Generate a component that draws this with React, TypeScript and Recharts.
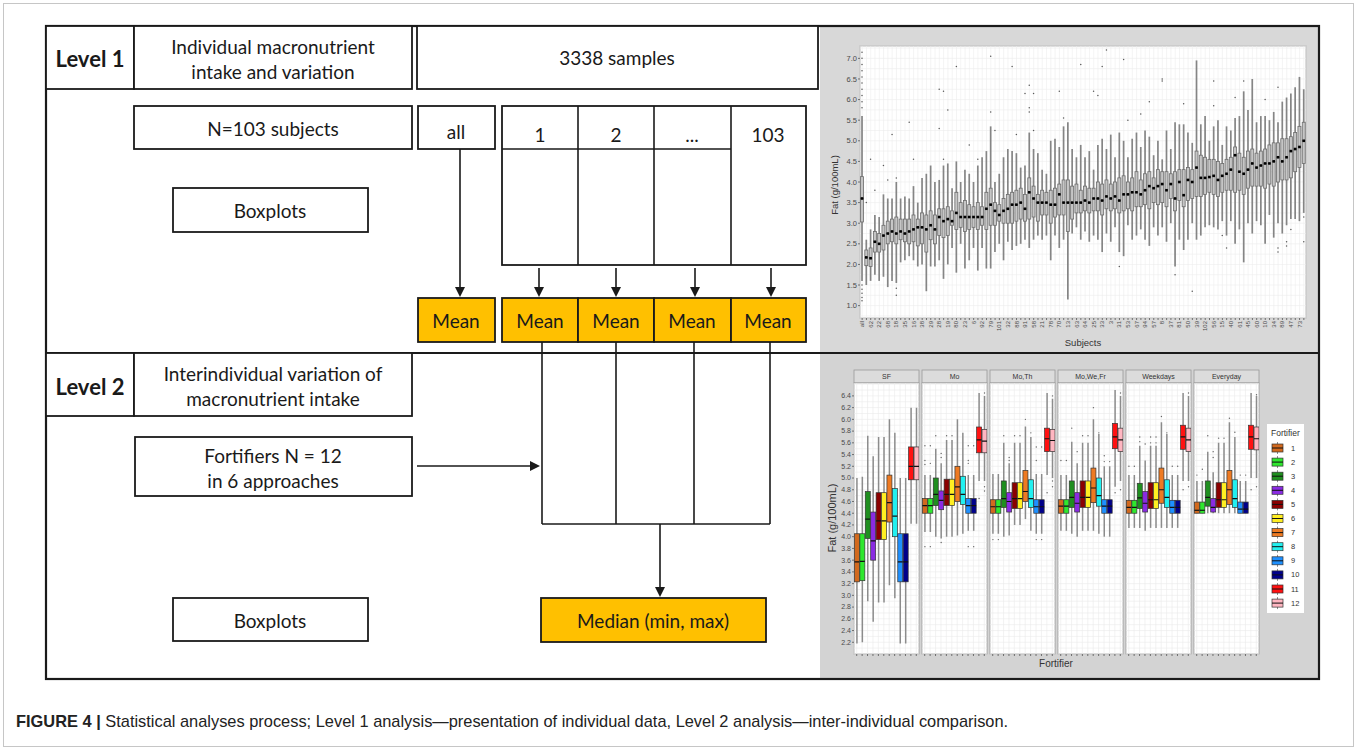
import React from "react";
import { ComposedChart, Bar, XAxis, YAxis, CartesianGrid } from "recharts";

// ---------- Level 1: fat per subject (sorted by median) ----------
const subjects = [
  "all", "1", "62", "2", "22", "4", "68", "5", "18", "7", "35", "9", "16", "11", "38", "12", "29", "14", "28", "17",
  "19", "20", "80", "24", "23", "26", "6", "27", "92", "30", "79", "36", "101", "41", "32", "42", "88", "43", "91", "44",
  "58", "46", "21", "48", "78", "49", "70", "51", "13", "52", "63", "54", "64", "55", "25", "59", "33", "65", "3", "66",
  "31", "69", "53", "71", "67", "72", "94", "74", "57", "75", "8", "76", "37", "77", "81", "82", "50", "83", "39", "84",
  "102", "85", "56", "86", "15", "87", "40", "90", "61", "93", "45", "95", "60", "96", "10", "97", "34", "98", "89", "99",
  "47", "100", "73", "103",
];

const subjLo = [
  1.6, 1.5, 1.6, 1.75, 1.6, 1.7, 1.45, 1.6, 1.55, 2.05,
  2.1, 2.2, 2.1, 1.95, 2.0, 1.35, 1.95, 1.95, 2.1, 1.65,
  2.0, 2.4, 1.8, 2.5, 1.9, 2.1, 2.4, 1.85, 2.4, 1.9,
  1.9, 2.3, 2.5, 2.1, 2.55, 2.35, 2.45, 2.5, 2.6, 2.4,
  2.6, 2.7, 2.6, 2.7, 2.1, 2.7, 2.4, 2.6, 1.15, 2.75,
  2.9, 2.6, 2.8, 2.55, 2.7, 2.6, 2.3, 2.75, 2.55, 2.9,
  2.3, 2.2, 2.95, 2.6, 2.7, 2.85, 2.6, 2.45, 2.9, 2.7,
  2.9, 2.55, 3.0, 1.95, 2.6, 2.35, 2.6, 3.0, 2.6, 2.7,
  2.9, 2.95, 2.9, 2.85, 3.05, 2.7, 3.05, 2.5, 2.85, 2.05,
  3.0, 2.75, 3.05, 2.95, 2.5, 3.2, 2.65, 3.0, 2.75, 2.95,
  3.1, 3.1, 3.05, 3.25,
];
const subjQ1 = [
  3.03, 1.97, 1.95, 2.3, 2.3, 2.35, 2.5, 2.55, 2.5, 2.6,
  2.55, 2.5, 2.55, 2.45, 2.5, 2.3, 2.6, 2.5, 2.7, 2.65,
  2.7, 2.95, 2.85, 2.9, 2.8, 2.85, 2.9, 2.85, 2.95, 2.85,
  2.95, 2.95, 3.05, 3.0, 3.0, 3.0, 3.05, 3.1, 3.05, 3.1,
  3.15, 3.05, 3.2, 3.2, 3.0, 3.15, 3.2, 3.2, 2.8, 3.1,
  3.25, 3.25, 3.3, 3.25, 3.3, 3.3, 3.2, 3.35, 3.3, 3.35,
  3.25, 3.3, 3.35, 3.3, 3.4, 3.4, 3.45, 3.35, 3.5, 3.45,
  3.5, 3.4, 3.6, 3.3, 3.55, 3.4, 3.55, 3.6, 3.65, 3.65,
  3.7, 3.75, 3.7, 3.65, 3.75, 3.8, 3.8, 3.75, 3.8, 3.7,
  3.85, 3.9, 3.9, 3.9, 3.85, 3.95, 3.9, 4.0, 4.05, 4.05,
  4.1, 4.25, 4.35, 4.45,
];
const subjMed = [
  3.6, 2.17, 2.15, 2.55, 2.5, 2.7, 2.75, 2.8, 2.75, 2.8,
  2.75, 2.8, 2.85, 2.9, 2.9, 2.85, 2.95, 2.85, 3.15, 3.05,
  3.1, 3.05, 3.25, 3.15, 3.15, 3.15, 3.15, 3.15, 3.15, 3.35,
  3.45, 3.3, 3.2, 3.3, 3.35, 3.45, 3.45, 3.5, 3.35, 3.75,
  3.6, 3.5, 3.5, 3.5, 3.45, 3.45, 3.7, 3.5, 3.5, 3.5,
  3.5, 3.5, 3.55, 3.5, 3.6, 3.6, 3.55, 3.65, 3.6, 3.65,
  3.55, 3.7, 3.7, 3.75, 3.75, 3.7, 3.8, 3.9, 3.85, 3.9,
  3.95, 3.8, 3.95, 3.6, 4.0, 3.68, 4.05, 4.0, 4.35, 4.1,
  4.1, 4.12, 4.15, 4.05, 4.15, 4.2, 4.3, 4.65, 4.25, 4.2,
  4.3, 4.45, 4.35, 4.4, 4.45, 4.45, 4.5, 4.6, 4.5, 4.6,
  4.75, 4.8, 4.85, 5.0,
];
const subjQ3 = [
  4.13, 2.35, 2.4, 2.8, 2.75, 2.95, 3.05, 3.1, 3.15, 3.1,
  3.1, 3.1, 3.2, 3.1, 3.25, 3.2, 3.3, 3.2, 3.35, 3.35,
  3.4, 3.3, 3.75, 3.5, 3.55, 3.45, 3.4, 3.5, 3.4, 3.75,
  3.85, 3.5, 3.45, 3.6, 3.7, 3.75, 3.8, 3.85, 3.7, 4.1,
  3.9, 3.7, 3.8, 3.75, 3.8, 3.85, 3.95, 4.05, 4.05, 3.9,
  3.95, 3.8, 3.9, 3.85, 3.85, 4.0, 3.95, 4.05, 3.95, 4.0,
  4.1, 4.15, 4.0, 4.1, 4.25, 4.05, 4.2, 4.25, 4.1, 4.3,
  4.25, 4.25, 4.2, 4.25, 4.3, 4.3, 4.35, 4.3, 4.75, 4.65,
  4.6, 4.55, 4.55, 4.5, 4.45, 4.55, 4.6, 4.85, 4.7, 4.6,
  4.75, 4.8, 4.7, 4.75, 4.8, 4.9, 4.95, 4.95, 5.05, 5.05,
  5.1, 5.2, 5.35, 5.45,
];
const subjHi = [
  5.6, 2.6, 2.85, 3.2, 3.15, 3.7, 3.6, 3.6, 4.0, 3.6,
  3.65, 3.6, 3.9, 3.5, 4.1, 4.2, 4.4, 4.0, 4.05, 4.4,
  4.45, 3.85, 4.5, 4.0, 4.3, 4.2, 4.0, 4.4, 4.6, 4.75,
  5.35, 4.0, 4.2, 4.6, 4.8, 4.75, 4.7, 4.35, 4.4, 5.2,
  4.8, 4.7, 4.3, 4.2, 5.0, 5.05, 4.85, 5.35, 5.45, 4.8,
  4.6, 4.9, 4.6, 4.75, 4.3, 4.9, 5.05, 4.8, 5.15, 4.6,
  5.2, 5.0, 4.6, 5.05, 5.2, 4.85, 5.25, 5.1, 4.65, 5.0,
  4.55, 5.25, 4.8, 5.45, 5.4, 5.4, 5.2, 4.95, 6.95, 5.4,
  5.6, 5.0, 5.35, 5.5, 4.9, 5.35, 5.25, 5.55, 5.6, 6.2,
  5.75, 6.5, 5.45, 5.6, 5.6, 5.5, 5.7, 5.45, 5.95, 6.05,
  6.15, 6.3, 6.55, 6.25,
];
// [subject index, value]
const subjOutliers: [number, number][] = [
  [0, 5.8], [0, 5.95], [0, 6.1], [0, 6.25], [0, 6.4], [0, 6.55], [0, 6.7], [0, 6.85], [0, 7.0], [0, 7.15],
  [0, 1.5], [0, 1.4], [0, 1.3], [0, 1.2], [0, 1.12],
  [1, 3.5], [2, 4.55], [3, 3.8], [5, 4.4], [6, 4.05], [7, 5.15], [8, 4.1], [8, 1.42], [8, 1.25],
  [11, 5.45], [12, 4.55], [18, 6.25], [18, 5.3], [19, 6.2], [19, 4.55], [20, 5.75], [22, 6.8],
  [25, 4.9], [27, 4.55], [30, 7.05], [30, 5.7], [31, 5.25], [35, 6.8], [36, 5.15], [38, 6.15],
  [39, 6.35], [39, 5.8], [39, 5.7], [40, 6.15], [40, 5.25], [46, 6.2], [47, 5.55], [51, 6.85],
  [54, 6.2], [55, 6.1], [56, 6.8], [57, 7.2], [60, 1.95], [61, 6.97], [62, 5.5], [65, 5.65],
  [67, 5.95], [70, 6.45], [70, 6.5], [73, 1.75], [75, 5.9], [77, 1.35], [82, 5.85], [82, 6.45],
  [84, 2.7], [85, 2.4], [87, 6.05], [89, 6.45], [94, 6.0], [97, 2.4], [97, 2.3], [97, 6.3],
  [99, 2.55], [99, 2.45], [100, 2.85], [103, 2.55], [103, 3.15],
];
const subjTicks = [
  0.75, 1, 1.25, 1.5, 1.75, 2, 2.25, 2.5, 2.75, 3, 3.25, 3.5, 3.75, 4, 4.25, 4.5, 4.75,
  5, 5.25, 5.5, 5.75, 6, 6.25, 6.5, 6.75, 7, 7.25,
];

// ---------- Level 2: fortifiers in 6 approaches ----------
const approaches = ["SF", "Mo", "Mo,Th", "Mo,We,Fr", "Weekdays", "Everyday"];
const fortifiers = ["1", "2", "3", "4", "5", "6", "7", "8", "9", "10", "11", "12"];
const fortColors = [
  "#d2691e", "#2ee82e", "#1f8f1f", "#8a2be2", "#8b0000", "#ffee22",
  "#ee7a22", "#22f0f0", "#1e90ff", "#00008b", "#ff1111", "#ffb6c1",
];
const fortLo = [
  [2.18, 2.2, 2.9, 2.55, 2.88, 2.88, 3.17, 2.95, 2.18, 2.18, 4.22, 4.22],
  [4.08, 4.08, 4.0, 3.97, 4.0, 4.0, 4.02, 4.05, 4.1, 4.1, 4.95, 4.95],
  [4.05, 4.05, 4.0, 4.02, 4.2, 4.2, 4.3, 4.1, 4.05, 4.05, 5.05, 5.0],
  [4.1, 4.1, 4.05, 4.0, 4.1, 4.1, 4.1, 4.05, 4.0, 4.0, 4.85, 4.95],
  [4.15, 4.15, 4.15, 4.1, 4.15, 4.15, 4.15, 4.15, 4.15, 4.15, 4.95, 4.95],
  [4.4, 4.4, 4.4, 4.4, 4.4, 4.4, 4.4, 4.4, 4.4, 4.4, 5.0, 5.0],
];
const fortQ1 = [
  [3.23, 3.25, 3.97, 3.6, 3.95, 3.95, 4.25, 4.0, 3.23, 3.23, 4.97, 4.97],
  [4.4, 4.4, 4.53, 4.46, 4.53, 4.53, 4.6, 4.55, 4.4, 4.4, 5.43, 5.43],
  [4.4, 4.4, 4.5, 4.42, 4.48, 4.48, 4.6, 4.5, 4.4, 4.4, 5.45, 5.45],
  [4.4, 4.4, 4.5, 4.42, 4.5, 4.5, 4.58, 4.52, 4.4, 4.4, 5.5, 5.45],
  [4.4, 4.4, 4.48, 4.42, 4.48, 4.48, 4.57, 4.5, 4.4, 4.4, 5.49, 5.45],
  [4.4, 4.4, 4.52, 4.42, 4.5, 4.5, 4.55, 4.5, 4.4, 4.4, 5.49, 5.48],
];
const fortMed = [
  [3.57, 3.58, 4.3, 3.93, 4.27, 4.27, 4.58, 4.35, 3.57, 3.57, 5.2, 5.2],
  [4.53, 4.53, 4.72, 4.62, 4.72, 4.72, 4.85, 4.72, 4.53, 4.53, 5.65, 5.63],
  [4.51, 4.51, 4.65, 4.6, 4.65, 4.65, 4.77, 4.65, 4.51, 4.51, 5.67, 5.64],
  [4.52, 4.52, 4.67, 4.57, 4.67, 4.67, 4.83, 4.7, 4.52, 4.52, 5.7, 5.65],
  [4.5, 4.5, 4.66, 4.57, 4.63, 4.63, 4.8, 4.67, 4.5, 4.5, 5.7, 5.65],
  [4.45, 4.45, 4.67, 4.5, 4.63, 4.63, 4.8, 4.65, 4.47, 4.47, 5.7, 5.67],
];
const fortQ3 = [
  [4.05, 4.05, 4.77, 4.42, 4.75, 4.75, 5.05, 4.82, 4.05, 4.05, 5.53, 5.53],
  [4.65, 4.65, 5.0, 4.78, 4.98, 4.98, 5.2, 5.03, 4.65, 4.65, 5.87, 5.83],
  [4.63, 4.63, 4.95, 4.75, 4.92, 4.92, 5.13, 4.97, 4.63, 4.63, 5.85, 5.83],
  [4.63, 4.63, 4.95, 4.75, 4.95, 4.95, 5.17, 5.0, 4.63, 4.63, 5.93, 5.85],
  [4.62, 4.62, 4.91, 4.77, 4.92, 4.92, 5.17, 4.97, 4.62, 4.62, 5.9, 5.85],
  [4.59, 4.59, 4.95, 4.65, 4.92, 4.92, 5.13, 4.97, 4.59, 4.59, 5.9, 5.87],
];
const fortHi = [
  [5.0, 5.02, 5.72, 5.37, 5.7, 5.7, 6.0, 5.77, 5.0, 5.0, 6.2, 6.2],
  [5.05, 5.05, 5.5, 5.25, 5.65, 5.65, 6.0, 5.77, 5.05, 5.05, 6.45, 6.4],
  [5.07, 5.07, 5.6, 5.25, 5.6, 5.6, 5.88, 5.7, 5.07, 5.07, 6.45, 6.35],
  [5.05, 5.05, 5.62, 5.25, 5.6, 5.6, 6.0, 5.75, 5.2, 5.2, 6.5, 6.4],
  [5.05, 5.05, 5.55, 5.3, 5.55, 5.55, 5.95, 5.75, 5.05, 5.05, 6.45, 6.4],
  [4.95, 4.95, 5.45, 5.1, 5.6, 5.6, 5.95, 5.7, 4.95, 4.95, 6.45, 6.4],
];
// [approach, fortifier, value]
const fortOutliers: [number, number, number][] = [
  [1, 0, 3.83], [1, 0, 5.23], [1, 0, 5.3], [1, 0, 5.55], [1, 1, 3.83], [1, 1, 5.55], [1, 1, 5.25],
  [1, 2, 5.72], [1, 3, 5.35], [1, 3, 5.42], [1, 3, 3.9], [1, 4, 5.72], [1, 5, 5.72],
  [1, 8, 3.83], [1, 8, 5.25], [1, 8, 5.3], [1, 8, 5.55], [1, 9, 3.83], [1, 9, 5.55],
  [1, 10, 4.65], [1, 11, 4.85], [1, 11, 4.78], [1, 11, 6.45],
  [2, 0, 3.95], [2, 1, 3.95], [2, 2, 5.72], [2, 3, 5.3], [2, 3, 5.35], [2, 4, 5.72], [2, 5, 5.72],
  [2, 6, 6.0], [2, 7, 5.77], [2, 8, 3.95], [2, 8, 5.3], [2, 8, 5.53], [2, 9, 3.95], [2, 9, 5.53],
  [2, 10, 4.75], [2, 11, 4.85], [2, 11, 4.95], [2, 11, 6.4],
  [3, 0, 5.3], [3, 1, 5.3], [3, 2, 5.85], [3, 3, 5.45], [3, 4, 5.72], [3, 5, 5.72], [3, 6, 6.2],
  [3, 7, 5.77], [3, 8, 5.38], [3, 8, 5.28], [3, 9, 5.28], [3, 10, 4.75], [3, 11, 4.8], [3, 11, 6.45],
  [4, 0, 5.2], [4, 1, 5.2], [4, 2, 5.7], [4, 2, 5.62], [4, 3, 5.58], [4, 4, 5.7], [4, 4, 5.6],
  [4, 5, 5.7], [4, 5, 5.6], [4, 6, 6.05], [4, 7, 5.77], [4, 8, 5.2], [4, 9, 5.2], [4, 10, 4.8],
  [4, 11, 4.85], [4, 11, 6.45],
  [5, 0, 5.05], [5, 1, 5.15], [5, 2, 5.72], [5, 3, 5.35], [5, 3, 5.45], [5, 4, 5.68], [5, 5, 5.68],
  [5, 6, 6.02], [5, 7, 5.78], [5, 8, 5.05], [5, 9, 5.05], [5, 10, 4.8], [5, 11, 4.85], [5, 11, 6.42],
];
const fatTicks = [
  2.0, 2.1, 2.2, 2.3, 2.4, 2.5, 2.6, 2.7, 2.8, 2.9, 3.0, 3.1, 3.2, 3.3, 3.4, 3.5,
  3.6, 3.7, 3.8, 3.9, 4.0, 4.1, 4.2, 4.3, 4.4, 4.5, 4.6, 4.7, 4.8, 4.9, 5.0, 5.1,
  5.2, 5.3, 5.4, 5.5, 5.6, 5.7, 5.8, 5.9, 6.0, 6.1, 6.2, 6.3, 6.4, 6.5, 6.6,
];

const FLOW_FONT = "Lato, 'Open Sans', sans-serif";
const AX_FONT = "'Liberation Sans', Arial, sans-serif";
const INK = "#1a1a1a";
const GOLD = "#ffc000";

const subjData = subjects.map((name, i) => ({
  name,
  lo: subjLo[i],
  q1: subjQ1[i],
  med: subjMed[i],
  q3: subjQ3[i],
  hi: subjHi[i],
  out: subjOutliers.filter((o) => o[0] === i).map((o) => o[1]),
}));

// box drawn inside the [lo, hi] range bar, using the bar's own pixel span
function scaleOf(p: any) {
  const d = p.payload;
  const top = Math.min(p.y, p.y + p.height);
  const bot = Math.max(p.y, p.y + p.height);
  const k = (bot - top) / (d.hi - d.lo);
  return (v: number) => top + (d.hi - v) * k;
}

const subjBox = (p: any) => {
  const d = p.payload;
  const py = scaleOf(p);
  const cx = p.x + p.width / 2;
  return (
    <g>
      <line x1={cx} x2={cx} y1={py(d.hi)} y2={py(d.lo)} stroke="#858585" strokeWidth={1.7} />
      <rect x={p.x} y={py(d.q3)} width={p.width} height={py(d.q1) - py(d.q3)}
        fill="#c6c6c6" stroke="#6c6c6c" strokeWidth={0.8} />
      <line x1={p.x} x2={p.x + p.width} y1={py(d.med)} y2={py(d.med)} stroke="#444" strokeWidth={0.8} />
      <rect x={cx - 1.3} y={py(d.med) - 1.3} width={2.6} height={2.6} fill="#000" />
      {d.out.map((v: number, i: number) => (
        <circle key={i} cx={cx} cy={py(v)} r={0.75} fill="#5a5a5a" />
      ))}
    </g>
  );
};

const fortBox = (p: any) => {
  const d = p.payload;
  const py = scaleOf(p);
  const cx = p.x + p.width / 2;
  return (
    <g>
      <line x1={cx} x2={cx} y1={py(d.hi)} y2={py(d.lo)} stroke="#8c8c8c" strokeWidth={1.5} />
      <rect x={p.x} y={py(d.q3)} width={p.width} height={py(d.q1) - py(d.q3)}
        fill={d.color} stroke="#333" strokeWidth={0.7} />
      <line x1={p.x} x2={p.x + p.width} y1={py(d.med)} y2={py(d.med)} stroke="#111" strokeWidth={1.2} />
      {d.out.map((v: number, i: number) => (
        <circle key={i} cx={cx} cy={py(v)} r={0.7} fill="#666" />
      ))}
    </g>
  );
};

const subjYTick = (p: any) => {
  const v = p.payload.value;
  if (v < 1 || v > 7 || Math.abs(v * 2 - Math.round(v * 2)) > 1e-6) return <g />;
  return (
    <g>
      <line x1={p.x + 1} x2={p.x + 3} y1={p.y} y2={p.y} stroke="#555" strokeWidth={0.8} />
      <text x={p.x} y={p.y} dy={2.6} textAnchor="end" fontSize={7.5} fill="#4a4a4a" fontFamily={AX_FONT}>
        {v.toFixed(1)}
      </text>
    </g>
  );
};

const subjXTick = (p: any) => {
  const i = p.payload.index ?? p.index;
  return (
    <g>
      <line x1={p.x} x2={p.x} y1={p.y - 3} y2={p.y - 1} stroke="#555" strokeWidth={0.8} />
      {i % 2 === 0 && (
        <text transform={`rotate(-90 ${p.x} ${p.y})`} x={p.x} y={p.y} dy={2} textAnchor="end"
          fontSize={6} fill="#4a4a4a" fontFamily={AX_FONT}>
          {p.payload.value}
        </text>
      )}
    </g>
  );
};

const fatYTick = (p: any) => {
  const v = p.payload.value;
  const t = Math.round(v * 10);
  if (t < 22 || t > 64 || t % 2 !== 0) return <g />;
  return (
    <g>
      <line x1={p.x + 1} x2={p.x + 3} y1={p.y} y2={p.y} stroke="#555" strokeWidth={0.8} />
      <text x={p.x} y={p.y} dy={2.4} textAnchor="end" fontSize={7} fill="#4a4a4a" fontFamily={AX_FONT}>
        {v.toFixed(1)}
      </text>
    </g>
  );
};

function SubjectChart() {
  return (
    <div style={{ position: "absolute", left: 820, top: 28 }}>
      <ComposedChart width={497} height={322} data={subjData} barCategoryGap="12%"
        margin={{ top: 18, right: 11, bottom: 0, left: 0 }}>
        <CartesianGrid stroke="#ececec" strokeWidth={0.6} />
        <XAxis dataKey="name" interval={0} height={32} tick={subjXTick} tickLine={false}
          axisLine={false} tickSize={2} tickMargin={1} />
        <YAxis type="number" domain={[0.7, 7.3]} allowDataOverflow ticks={subjTicks} interval={0}
          width={40} tick={subjYTick} tickLine={false} axisLine={false} tickSize={2} tickMargin={1} />
        <Bar dataKey={(d: any) => [d.lo, d.hi]} shape={subjBox} isAnimationActive={false} />
      </ComposedChart>
    </div>
  );
}

function Facet({ f }: { f: number }) {
  const first = f === 0;
  const data = fortifiers.map((name, j) => ({
    name,
    lo: fortLo[f][j],
    q1: fortQ1[f][j],
    med: fortMed[f][j],
    q3: fortQ3[f][j],
    hi: fortHi[f][j],
    color: fortColors[j],
    out: fortOutliers.filter((o) => o[0] === f && o[1] === j).map((o) => o[2]),
  }));
  return (
    <div style={{ position: "absolute", left: first ? 820 : 854 + 68 * f, top: 383 }}>
      <ComposedChart width={first ? 99 : 65} height={279} data={data} barCategoryGap="8%"
        margin={{ top: 0, right: 0, bottom: 0, left: 0 }}>
        <CartesianGrid stroke="#ebebeb" strokeWidth={0.6} />
        <XAxis dataKey="name" interval={0} height={8} tickFormatter={() => ""} tickSize={2}
          axisLine={false} tickLine={{ stroke: "#555", strokeWidth: 0.8 }} />
        <YAxis type="number" domain={[2.0, 6.62]} allowDataOverflow ticks={fatTicks} interval={0}
          hide={!first} width={34} tick={fatYTick} tickLine={false} axisLine={false}
          tickSize={2} tickMargin={1} />
        <Bar dataKey={(d: any) => [d.lo, d.hi]} shape={fortBox} isAnimationActive={false} />
      </ComposedChart>
    </div>
  );
}

function ArrowDown({ x, y1, y2 }: { x: number; y1: number; y2: number }) {
  return (
    <g>
      <line x1={x} x2={x} y1={y1} y2={y2 - 9} stroke={INK} strokeWidth={1.6} />
      <polygon points={`${x - 5},${y2 - 10} ${x + 5},${y2 - 10} ${x},${y2}`} fill={INK} />
    </g>
  );
}

function Box({ x, y, w, h, fill = "#fff" }: { x: number; y: number; w: number; h: number; fill?: string }) {
  return <rect x={x} y={y} width={w} height={h} fill={fill} stroke={INK} strokeWidth={1.8} />;
}

function T({ x, y, children, bold = false }: { x: number; y: number; children: any; bold?: boolean }) {
  return (
    <text x={x} y={y} textAnchor="middle" dominantBaseline="central" fontSize={bold ? 22 : 19}
      fontWeight={bold ? 700 : 400} fill={INK} fontFamily={FLOW_FONT}>
      {children}
    </text>
  );
}

function Diagram() {
  const meanX = [456, 540, 616, 692, 768];
  return (
    <svg width={1357} height={750} style={{ position: "absolute", left: 0, top: 0 }}>
      <rect x={3.5} y={3.5} width={1350} height={743} fill="#fff" stroke="#c6c6c6" />

      {/* chart panels */}
      <rect x={820} y={27} width={498} height={325} fill="#d8d8d8" />
      <rect x={820} y={354} width={498} height={324} fill="#d3d3d3" />
      <rect x={860} y={46} width={446} height={272} fill="#fff" stroke="#9a9a9a" strokeWidth={0.8} />
      {approaches.map((a, f) => (
        <g key={a}>
          <rect x={854 + 68 * f} y={370} width={65} height={13} fill="#dcdcdc" stroke="#9a9a9a" strokeWidth={0.8} />
          <rect x={854 + 68 * f} y={383} width={65} height={271} fill="#fff" stroke="#9a9a9a" strokeWidth={0.8} />
          <text x={886.5 + 68 * f} y={376.5} dy={2.5} textAnchor="middle" fontSize={7} fill="#333" fontFamily={AX_FONT}>
            {a}
          </text>
        </g>
      ))}
      <text transform="rotate(-90 834 185)" x={834} y={185} textAnchor="middle" dominantBaseline="central"
        fontSize={9.5} fill="#333" fontFamily={AX_FONT}>Fat (g/100mL)</text>
      <text x={1083} y={342} textAnchor="middle" dominantBaseline="central" fontSize={9.5} fill="#333"
        fontFamily={AX_FONT}>Subjects</text>
      <text transform="rotate(-90 832 518)" x={832} y={518} textAnchor="middle" dominantBaseline="central"
        fontSize={11} fill="#333" fontFamily={AX_FONT}>Fat (g/100mL)</text>
      <text x={1056} y={663} textAnchor="middle" dominantBaseline="central" fontSize={10} fill="#333"
        fontFamily={AX_FONT}>Fortifier</text>

      {/* legend */}
      <rect x={1267} y={424} width={37} height={189} fill="#fff" />
      <text x={1271} y={436} fontSize={8.5} fill="#333" fontFamily={AX_FONT}>Fortifier</text>
      {fortifiers.map((n, j) => {
        const cy = 448 + j * 14.1;
        return (
          <g key={n}>
            <line x1={1277.5} x2={1277.5} y1={cy - 6} y2={cy + 6} stroke="#8c8c8c" strokeWidth={1} />
            <rect x={1272} y={cy - 4} width={11} height={8} fill={fortColors[j]} stroke="#333" strokeWidth={0.7} />
            <line x1={1272} x2={1283} y1={cy} y2={cy} stroke="#111" strokeWidth={1} />
            <text x={1291} y={cy} dy={2.5} fontSize={7.5} fill="#333" fontFamily={AX_FONT}>{n}</text>
          </g>
        );
      })}

      {/* frame */}
      <rect x={46} y={26} width={1273} height={653} fill="none" stroke={INK} strokeWidth={2.2} />
      <line x1={46} x2={1319} y1={353} y2={353} stroke={INK} strokeWidth={2.2} />

      {/* level 1 */}
      <Box x={46} y={26} w={88} h={63} />
      <Box x={134} y={26} w={278} h={63} />
      <Box x={417} y={26} w={401} h={63} />
      <T x={90} y={58} bold>Level 1</T>
      <T x={273} y={46}>Individual macronutrient</T>
      <T x={273} y={71}>intake and variation</T>
      <T x={617} y={57}>3338 samples</T>

      <Box x={134} y={106} w={278} h={43} />
      <T x={273} y={128}>N=103 subjects</T>
      <Box x={418} y={106} w={77} h={43} />
      <T x={456} y={131}>all</T>
      <Box x={502} y={106} w={304} h={159} />
      <line x1={502} x2={731} y1={149} y2={149} stroke={INK} strokeWidth={1.6} />
      {[578, 654, 731].map((x) => (
        <line key={x} x1={x} x2={x} y1={106} y2={265} stroke={INK} strokeWidth={1.6} />
      ))}
      <T x={540} y={134}>1</T>
      <T x={616} y={134}>2</T>
      <T x={692} y={134}>...</T>
      <T x={768} y={134}>103</T>

      <Box x={173} y={188} w={195} h={44} />
      <T x={270} y={210}>Boxplots</T>

      <ArrowDown x={460} y1={149} y2={297} />
      {[539, 616, 695, 771].map((x) => (
        <ArrowDown key={x} x={x} y1={268} y2={297} />
      ))}
      <Box x={418} y={298} w={77} h={44} fill={GOLD} />
      {[502, 578, 654, 731].map((x, i) => (
        <Box key={x} x={x} y={298} w={i === 3 ? 75 : x === 654 ? 77 : 76} h={44} fill={GOLD} />
      ))}
      {meanX.map((x) => (
        <T key={x} x={x} y={320}>Mean</T>
      ))}

      {/* level 2 */}
      <Box x={46} y={353} w={88} h={63} />
      <Box x={134} y={353} w={278} h={63} />
      <T x={90} y={386} bold>Level 2</T>
      <T x={273} y={373}>Interindividual variation of</T>
      <T x={273} y={398}>macronutrient intake</T>

      <Box x={135} y={437} w={277} h={59} />
      <T x={273} y={455}>Fortifiers N = 12</T>
      <T x={273} y={480}>in 6 approaches</T>
      <line x1={417} x2={531} y1={466} y2={466} stroke={INK} strokeWidth={1.6} />
      <polygon points="530,461 530,471 540,466" fill={INK} />

      {[542, 616, 694, 770].map((x) => (
        <line key={x} x1={x} x2={x} y1={342} y2={524} stroke={INK} strokeWidth={1.6} />
      ))}
      <line x1={542} x2={770} y1={524} y2={524} stroke={INK} strokeWidth={1.6} />
      <ArrowDown x={660} y1={524} y2={597} />
      <Box x={541} y={598} w={225} h={44} fill={GOLD} />
      <T x={653} y={620}>Median (min, max)</T>
      <Box x={173} y={598} w={195} h={43} />
      <T x={270} y={620}>Boxplots</T>

      {/* caption */}
      <text x={16} y={727} fontSize={16.4} fill="#222"
        fontFamily="'Liberation Sans Narrow', 'Liberation Sans', Arial, sans-serif">
        <tspan fontWeight={700}>FIGURE 4 |</tspan> Statistical analyses process; Level 1 analysis—presentation of
        individual data, Level 2 analysis—inter-individual comparison.
      </text>
    </svg>
  );
}

export default function App() {
  return (
    <div style={{ position: "absolute", left: 0, top: 0, width: 1357, height: 750, background: "#fff" }}>
      <Diagram />
      <SubjectChart />
      {approaches.map((a, f) => (
        <Facet key={a} f={f} />
      ))}
    </div>
  );
}
